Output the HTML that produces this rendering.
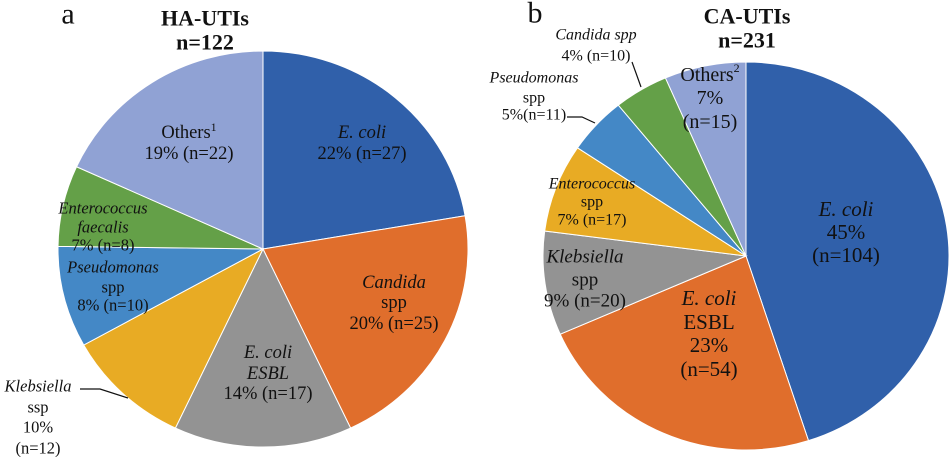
<!DOCTYPE html>
<html><head><meta charset="utf-8"><style>
html,body{margin:0;padding:0;background:#fff;}
svg{display:block;font-family:"Liberation Serif",serif;}
</style></head><body>
<svg id="chart" width="949" height="457" viewBox="0 0 949 457">
<g id="pieA"></g>
<g id="pieB"></g>
<g id="labels" fill="#111" text-anchor="middle" dominant-baseline="central">
<text x="68" y="14" font-size="30">a</text>
<text x="205" y="18" font-size="22" font-weight="bold">HA-UTIs</text>
<text x="205" y="42" font-size="22" font-weight="bold">n=122</text>
<text x="535" y="13" font-size="30">b</text>
<text x="747" y="16" font-size="22" font-weight="bold">CA-UTIs</text>
<text x="747" y="40" font-size="22" font-weight="bold">n=231</text>

<g font-size="18.5">
<text x="362" y="133" font-style="italic">E. coli</text><text x="362" y="154">22% (n=27)</text>
<text x="189" y="133">Others<tspan font-size="12" dy="-6">1</tspan></text><text x="189" y="154">19% (n=22)</text>
<text x="394" y="283" font-style="italic">Candida</text><text x="394" y="303">spp</text><text x="394" y="324">20% (n=25)</text>
<text x="268" y="353" font-style="italic">E. coli</text><text x="268" y="374" font-style="italic">ESBL</text><text x="268" y="394">14% (n=17)</text>
<text x="103" y="208" font-size="16.5" font-style="italic">Enterococcus</text><text x="103" y="227" font-size="16.5" font-style="italic">faecalis</text><text x="103" y="245" font-size="16.5">7% (n=8)</text>
<text x="113" y="267" font-size="16.5" font-style="italic">Pseudomonas</text><text x="113" y="287" font-size="16.5">spp</text><text x="113" y="305" font-size="16.5">8% (n=10)</text>
<text x="38" y="386" font-size="16.5" font-style="italic">Klebsiella</text><text x="38" y="407" font-size="16.5">ssp</text><text x="38" y="427" font-size="16.5">10%</text><text x="38" y="448" font-size="16.5">(n=12)</text>
</g>
<g font-size="16">
<text x="596" y="35" font-style="italic">Candida spp</text><text x="596" y="56">4% (n=10)</text>
<text x="534" y="78" font-style="italic">Pseudomonas</text><text x="534" y="98">spp</text><text x="534" y="115">5%(n=11)</text>
<text x="710" y="75" font-size="20">Others<tspan font-size="12" dy="-7">2</tspan></text><text x="710" y="98" font-size="20">7%</text><text x="710" y="122" font-size="20">(n=15)</text>
<text x="846" y="209" font-size="21" font-style="italic">E. coli</text><text x="846" y="232" font-size="21">45%</text><text x="846" y="255" font-size="21">(n=104)</text>
<text x="592" y="184" font-style="italic">Enterococcus</text><text x="592" y="202">spp</text><text x="592" y="220">7% (n=17)</text>
<text x="585" y="257" font-size="19" font-style="italic">Klebsiella</text><text x="585" y="280" font-size="19">spp</text><text x="585" y="301" font-size="19">9% (n=20)</text>
<text x="709" y="298" font-size="21" font-style="italic">E. coli</text><text x="709" y="322" font-size="21">ESBL</text><text x="709" y="345" font-size="21">23%</text><text x="709" y="369" font-size="21">(n=54)</text>
</g>
</g>
<g stroke="#111" stroke-width="1.2" fill="none">
<polyline points="80,389 100,389 128,398"/>
<polyline points="632,62 641,87"/>
<polyline points="567,117 582,117 595,123"/>
</g>
</svg>
<script>
const haCategories = ["E. coli","Candida spp","E. coli ESBL","Klebsiella ssp","Pseudomonas spp","Enterococcus faecalis","Others"];
const haValues = [27,25,17,12,10,8,22];
const caCategories = ["E. coli","E. coli ESBL","Klebsiella spp","Enterococcus spp","Pseudomonas spp","Candida spp","Others"];
const caValues = [104,54,20,17,11,10,15];
const haColors = ["#3060aa","#e06e2c","#939393","#e8ab24","#4488c6","#64a048","#90a2d4"];
const caColors = ["#3060aa","#e06e2c","#939393","#e8ab24","#4488c6","#64a048","#90a2d4"];
const NS="http://www.w3.org/2000/svg";
function drawPie(gid, cats, vals, colors, cx, cy, rx, ry, prefix){
  const g=document.getElementById(gid);
  const total=vals.reduce((a,b)=>a+b,0);
  let a0=0;
  vals.forEach((v,i)=>{
    const a1=a0+v/total*2*Math.PI;
    const x0=cx+rx*Math.sin(a0), y0=cy-ry*Math.cos(a0);
    const x1=cx+rx*Math.sin(a1), y1=cy-ry*Math.cos(a1);
    const large=(a1-a0)>Math.PI?1:0;
    const p=document.createElementNS(NS,"path");
    p.setAttribute("d",`M${cx},${cy} L${x0},${y0} A${rx},${ry} 0 ${large} 1 ${x1},${y1} Z`);
    p.setAttribute("fill",colors[i]);
    p.setAttribute("stroke","#fff");
    p.setAttribute("stroke-width","1");
    
    
    g.appendChild(p);
    a0=a1;
  });
}
drawPie("pieA",haCategories,haValues,haColors,263,249,205,198,"ha");
drawPie("pieB",caCategories,caValues,caColors,746,256,203,194,"ca");
</script>
</body></html>
